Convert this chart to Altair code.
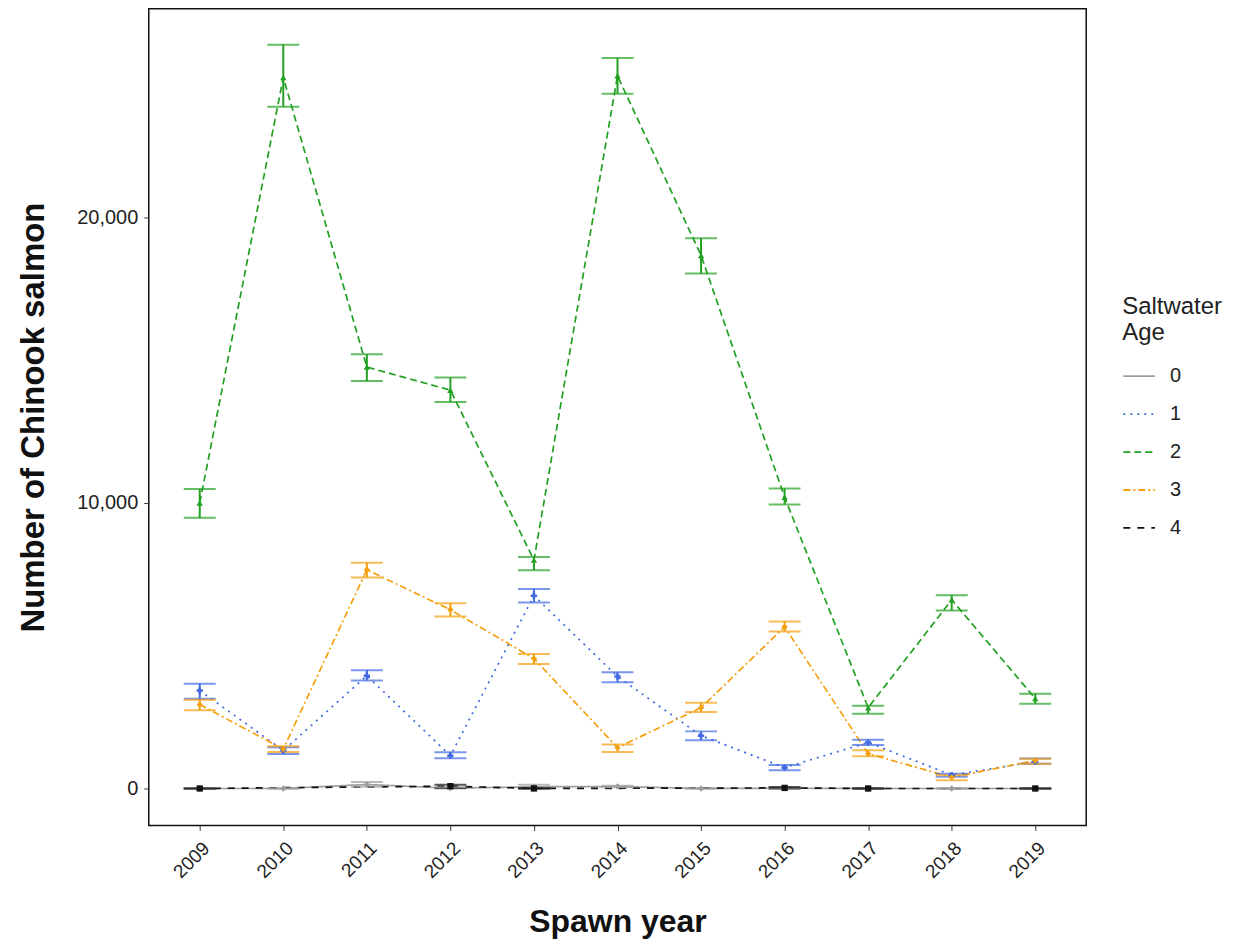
import altair as alt
import pandas as pd

years = [2009, 2010, 2011, 2012, 2013, 2014, 2015, 2016, 2017, 2018, 2019]
ages = ["0", "1", "2", "3", "4"]

# Saltwater age 0
mean_0 = [0, 0, 140, 10, 60, 70, 0, 10, 0, 0, 0]
lo_0 = [0, 0, 60, 0, 0, 40, 0, 0, 0, 0, 0]
hi_0 = [0, 0, 230, 40, 130, 100, 0, 30, 0, 0, 0]
# Saltwater age 1
mean_1 = [3430, 1330, 3950, 1150, 6750, 3920, 1850, 730, 1610, 470, 940]
lo_1 = [3140, 1210, 3780, 1060, 6510, 3720, 1690, 640, 1520, 410, 870]
hi_1 = [3670, 1440, 4140, 1270, 6990, 4070, 2000, 820, 1710, 520, 1050]
# Saltwater age 2
mean_2 = [10000, 24900, 14760, 13950, 8000, 24960, 18670, 10200, 2830, 6610, 3150]
lo_2 = [9480, 23880, 14270, 13540, 7640, 24330, 18040, 9950, 2620, 6230, 2970]
hi_2 = [10490, 26050, 15210, 14390, 8110, 25580, 19270, 10510, 2900, 6770, 3320]
# Saltwater age 3
mean_3 = [2940, 1380, 7660, 6260, 4550, 1430, 2830, 5660, 1220, 390, 980]
lo_3 = [2740, 1280, 7390, 6020, 4360, 1280, 2680, 5500, 1130, 290, 870]
hi_3 = [3110, 1480, 7910, 6490, 4710, 1540, 3000, 5850, 1340, 460, 1040]
# Saltwater age 4 (None = no estimate that year)
mean_4 = [0, None, None, 80, 0, None, None, 20, 0, None, 0]
lo_4 = [0, None, None, 20, 0, None, None, 0, 0, None, 0]
hi_4 = [0, None, None, 130, 10, None, None, 50, 0, None, 0]

series = [
    ("0", mean_0, lo_0, hi_0),
    ("1", mean_1, lo_1, hi_1),
    ("2", mean_2, lo_2, hi_2),
    ("3", mean_3, lo_3, hi_3),
    ("4", mean_4, lo_4, hi_4),
]
rows = []
for age, m, lo, hi in series:
    for yr, a, b, c in zip(years, m, lo, hi):
        if a is None:
            continue
        rows.append({"year": yr, "age": age, "mean": a, "lo": b, "hi": c})
df = pd.DataFrame(rows)

colors = ["#9E9E9E", "#4169E1", "#22A022", "#F5A010", "#111111"]
dashes = [[1, 0], [2, 5], [7, 4], [7, 3, 2, 3], [7, 7]]
shapes = ["diamond", "cross", "triangle-up", "diamond", "square"]

color_scale = alt.Scale(domain=ages, range=colors)
dash_scale = alt.Scale(domain=ages, range=dashes)

x_enc = alt.X(
    "year:Q",
    scale=alt.Scale(domain=[2008.39, 2019.61], nice=False, zero=False),
    axis=alt.Axis(
        values=years, format="d", labelAngle=-45, grid=False, domain=False,
        title="Spawn year", titleFontSize=32, titleFontWeight="bold",
        titlePadding=25, labelFontSize=19, labelPadding=8, tickSize=5,
        tickColor="#333333", labelColor="#222222", titleColor="#111111",
    ),
)
y_scale = alt.Scale(domain=[-1294, 27308], nice=False, zero=False)
y_axis = alt.Axis(
    values=[0, 10000, 20000], format=",.0f", grid=False, domain=False,
    title="Number of Chinook salmon", titleFontSize=33, titleFontWeight="bold",
    titlePadding=26, labelFontSize=20, labelPadding=6, tickSize=5,
    tickColor="#333333", labelColor="#222222", titleColor="#111111",
)

base = alt.Chart(df)

lines = base.mark_line(strokeWidth=1.7).encode(
    x=x_enc,
    y=alt.Y("mean:Q", scale=y_scale, axis=y_axis),
    color=alt.Color("age:N", scale=color_scale,
                    legend=alt.Legend(title=["Saltwater", "Age"])),
    strokeDash=alt.StrokeDash("age:N", scale=dash_scale,
                              legend=alt.Legend(title=["Saltwater", "Age"])),
)

rules = base.mark_rule(strokeWidth=2).encode(
    x="year:Q",
    y="lo:Q",
    y2="hi:Q",
    color=alt.Color("age:N", scale=color_scale, legend=None),
)

caps_lo = base.mark_tick(orient="horizontal", size=32, thickness=2).encode(
    x="year:Q",
    y="lo:Q",
    color=alt.Color("age:N", scale=color_scale, legend=None),
)
caps_hi = base.mark_tick(orient="horizontal", size=32, thickness=2).encode(
    x="year:Q",
    y="hi:Q",
    color=alt.Color("age:N", scale=color_scale, legend=None),
)

point_layers = []
for age, shp in zip(ages, shapes):
    point_layers.append(
        base.transform_filter(alt.datum.age == age)
        .mark_point(filled=True, size=40, opacity=1, shape=shp)
        .encode(
            x="year:Q",
            y="mean:Q",
            color=alt.Color("age:N", scale=color_scale, legend=None),
        )
    )

chart = (
    alt.layer(lines, rules, caps_lo, caps_hi, *point_layers)
    .properties(width=939, height=818,
                padding={"left": 9, "top": 0, "right": 5, "bottom": 5})
    .configure_view(stroke="#111111", strokeWidth=1.5)
    .configure_axis(labelFont="Liberation Sans", titleFont="Liberation Sans")
    .configure_legend(
        orient="none", legendX=975, legendY=287,
        titleFont="Liberation Sans", labelFont="Liberation Sans",
        titleFontSize=24, titleFontWeight="normal", titleColor="#222222",
        labelFontSize=20, labelColor="#222222",
        symbolType="stroke", symbolSize=1000, symbolStrokeWidth=1.8,
        rowPadding=11, labelOffset=14, titlePadding=14,
    )
)

chart.save("out.html", embed_options={"renderer": "svg", "actions": False})
